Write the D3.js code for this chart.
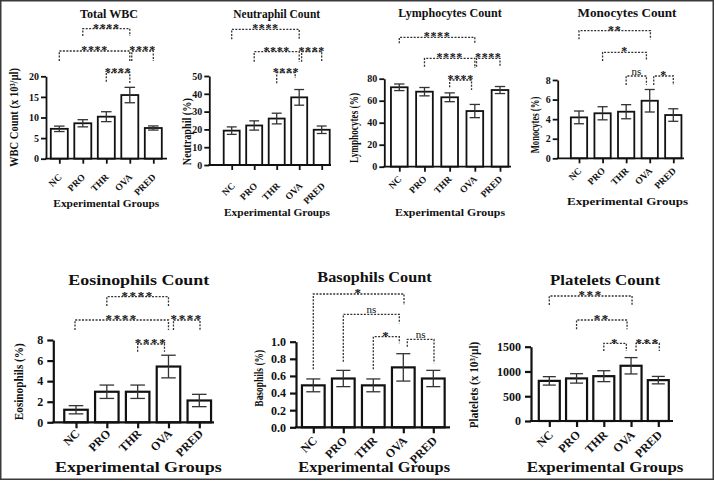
<!DOCTYPE html>
<html>
<head>
<meta charset="utf-8">
<script src="https://cdn.jsdelivr.net/npm/d3@7"></script>
<style>
  body { margin: 0; background: #fff; }
  text { font-family: "Liberation Serif", "Times New Roman", serif; font-weight: bold; fill: #111; }
</style>
</head>
<body>
<svg id="chart" width="715" height="482"></svg>
<script>
var groups = ["NC", "PRO", "THR", "OVA", "PRED"];

// Total WBC (x 10^3/ul)
var wbcMean = [7.25, 8.6, 10.2, 15.45, 7.45];
var wbcErr = [0.66, 0.87, 1.2, 1.87, 0.5];
var wbcTicks = [0, 5, 10, 15, 20];
var wbcSig = [["PRO", "OVA", "****"], ["NC", "OVA", "****"], ["OVA", "PRED", "****"], ["THR", "OVA", "****"]];

// Neutraphil (%)
var neuMean = [19.3, 22.2, 26.1, 38, 19.8];
var neuErr = [2.1, 2.6, 3, 4.4, 2.1];
var neuTicks = [0, 10, 20, 30, 40, 50];
var neuSig = [["NC", "OVA", "****"], ["PRO", "OVA", "****"], ["OVA", "PRED", "****"], ["THR", "OVA", "****"]];

// Lymphocytes (%)
var lymMean = [72.2, 68.2, 63.1, 50.6, 69.7];
var lymErr = [3, 3.8, 4, 6, 3.2];
var lymTicks = [0, 20, 40, 60, 80];
var lymSig = [["NC", "OVA", "****"], ["PRO", "OVA", "****"], ["OVA", "PRED", "****"], ["THR", "OVA", "****"]];

// Monocytes (%)
var monMean = [4.18, 4.6, 4.76, 5.88, 4.42];
var monErr = [0.65, 0.67, 0.72, 1.15, 0.64];
var monTicks = [0, 2, 4, 6, 8];
var monSig = [["NC", "OVA", "**"], ["PRO", "OVA", "*"], ["THR", "OVA", "ns"], ["OVA", "PRED", "*"]];

// Eosinophils (%)
var eosMean = [1.22, 2.97, 2.97, 5.42, 2.12];
var eosErr = [0.4, 0.65, 0.65, 1.1, 0.6];
var eosTicks = [0, 2, 4, 6, 8];
var eosSig = [["PRO", "OVA", "****"], ["NC", "OVA", "****"], ["OVA", "PRED", "****"], ["THR", "OVA", "****"]];

// Basophils (%)
var basMean = [0.49, 0.57, 0.49, 0.70, 0.57];
var basErr = [0.075, 0.095, 0.075, 0.16, 0.095];
var basTicks = [0, 0.2, 0.4, 0.6, 0.8, 1.0];
var basSig = [["NC", "OVA", "*"], ["PRO", "OVA", "ns"], ["THR", "OVA", "*"], ["OVA", "PRED", "ns"]];

// Platelets (x 10^3/ul)
var pltMean = [810, 860, 905, 1115, 825];
var pltErr = [85, 95, 110, 165, 75];
var pltTicks = [0, 500, 1000, 1500];
var pltSig = [["NC", "OVA", "***"], ["PRO", "OVA", "**"], ["THR", "OVA", "*"], ["OVA", "PRED", "***"]];

var svg = d3.select("#chart");

// outer frame
svg.append("rect")
    .attr("x", 0.75).attr("y", 0.75)
    .attr("width", 712.5).attr("height", 478.5)
    .attr("fill", "none").attr("stroke", "#3a3a3a").attr("stroke-width", 1.5);

var small = { title: 12, ylab: 11.5, xtitle: 11, ytick: 10, xtick: 9.5, star: 12, ns: 11, stroke: 1.8, tick: 5, tickGap: 7, starDy: 2.8, starSp: 0.6 };
var large = { title: 15, ylab: 13, xtitle: 15.5, ytick: 12, xtick: 12, star: 13, ns: 11, stroke: 2.2, tick: 6, tickGap: 10, starDy: 3.2, starSp: 1.6 };

// bracket layout: [line y, leg end A, leg end B, nudge A, nudge B]
var panels = [
    { mean: wbcMean, err: wbcErr, ticks: wbcTicks, sig: wbcSig, f: small,
      title: "Total WBC", ylab: "WBC Count (x 10\u00B3/\u00B5l)",
      ax: 46, base: 158.7, top: 76.3, x1: 59.3, x2: 153.3, xEnd: 167, barW: 17,
      tt: [109, 18, 58], yl: [14.2, 117.5, 99], xt: [106.3, 207, 106], lbl: [2.5, 19],
      br: [[28.7, 36, 36, 0, 0], [51, 61, 61, 0, 0], [51, 61, 61, 2, 0], [72.7, 81.7, 83.5, 0, 0]] },
    { mean: neuMean, err: neuErr, ticks: neuTicks, sig: neuSig, f: small,
      title: "Neutraphil Count", ylab: "Neutraphil (%)",
      ax: 209.3, base: 165, top: 76, x1: 231.7, x2: 321.7, xEnd: 331, barW: 16,
      tt: [276.7, 18, 86.7], yl: [187, 131.7, 67], xt: [277, 215.5, 106], lbl: [3.3, 21.5],
      br: [[29.3, 39.3, 39.3, 0, 0], [51.7, 61.7, 61.7, 0, 0], [51.7, 61.7, 61.7, 2.4, 0], [72.7, 83.3, 78, 0, -4]] },
    { mean: lymMean, err: lymErr, ticks: lymTicks, sig: lymSig, f: small,
      title: "Lymphocytes Count", ylab: "Lymphocytes (%)",
      ax: 384.3, base: 166.7, top: 78.7, x1: 399.3, x2: 500, xEnd: 511, barW: 16.7,
      tt: [450, 16.5, 103.3], yl: [354, 128, 70], xt: [450, 215.5, 110], lbl: [2.3, 13],
      br: [[37.3, 43.3, 43.3, 0, 0], [58.3, 66.7, 68, 0, 0], [58.3, 66.7, 66.7, 1.7, 0], [80, 87.3, 90, 0, -3.3]] },
    { mean: monMean, err: monErr, ticks: monTicks, sig: monSig, f: small,
      title: "Monocytes Count", ylab: "Monocytes (%)",
      ax: 557.7, base: 158.3, top: 80, x1: 579, x2: 673.3, xEnd: 684, barW: 16.3,
      tt: [627, 16.5, 99], yl: [535, 125, 56.7], xt: [627.5, 204.5, 121], lbl: [2.7, 13],
      br: [[30.7, 39.3, 39.3, 0, 0.7], [52.3, 61, 61, 0, -3.3], [76, 85, 85, 0, -3.3], [76, 85, 85, 4, 0]] },
    { mean: eosMean, err: eosErr, ticks: eosTicks, sig: eosSig, f: large,
      title: "Eosinophils Count", ylab: "Eosinophils (%)",
      ax: 53.3, base: 422.3, top: 340, x1: 76, x2: 199.3, xEnd: 214, barW: 23.5,
      tt: [138.8, 285, 141], yl: [18.3, 381.7, 77], xt: [138.3, 472, 166.7], lbl: [4, 12],
      br: [[296.7, 306, 306, 0, 0], [320, 330, 330, -1, 0], [320, 330, 330, 5, 0.7], [344, 351.7, 351.7, 0, -4]] },
    { mean: basMean, err: basErr, ticks: basTicks, sig: basSig, f: large, fmt: d3.format(".1f"),
      title: "Basophils Count", ylab: "Basophils (%)",
      ax: 296, base: 427.3, top: 341.7, x1: 313.3, x2: 433.3, xEnd: 450, barW: 22.7,
      tt: [374.5, 282, 114.3], yl: [258.3, 378.3, 56.7], xt: [374.2, 472, 151.7], lbl: [4, 14],
      br: [[294, 369.3, 305, 0, 0.7], [314.3, 361.7, 323.3, 0, -4], [336.7, 369.3, 343.3, 0, -4], [339.3, 346.7, 363.3, 4, 0.7]] },
    { mean: pltMean, err: pltErr, ticks: pltTicks, sig: pltSig, f: large,
      title: "Platelets Count", ylab: "Platelets (x 10\u00B3/\u00B5l)",
      ax: 531, base: 421, top: 346.7, x1: 549.3, x2: 658.3, xEnd: 673, barW: 21,
      tt: [605, 284.5, 110], yl: [473.3, 385, 86.7], xt: [605, 472, 156.7], lbl: [4, 14.5],
      br: [[296, 305, 305, 0, 1], [320, 329.3, 329.3, 0, -4], [343.3, 351, 351, 0, -4.7], [343.3, 351, 351, 5, 1]] }
];

panels.forEach(drawPanel);

function drawPanel(p) {
    var f = p.f;
    var g = svg.append("g");
    var yMax = p.ticks[p.ticks.length - 1];

    var x = d3.scalePoint().domain(groups).range([p.x1, p.x2]);
    var y = d3.scaleLinear().domain([0, yMax]).range([p.base, p.top]);

    var rows = groups.map(function (d, i) { return { g: d, m: p.mean[i], e: p.err[i] }; });

    // bars
    g.selectAll("rect.bar")
        .data(rows)
        .enter()
        .append("rect")
        .attr("class", "bar")
        .attr("x", function (d) { return x(d.g) - p.barW / 2; })
        .attr("y", function (d) { return y(d.m); })
        .attr("width", p.barW)
        .attr("height", function (d) { return y(0) - y(d.m); })
        .attr("fill", "#fff")
        .attr("stroke", "#111")
        .attr("stroke-width", f.stroke);

    // error bars
    var capW = p.barW * 0.62;
    var eb = g.selectAll("g.err").data(rows).enter().append("g").attr("class", "err")
        .attr("stroke", "#333").attr("stroke-width", 1.3);
    eb.append("line")
        .attr("x1", function (d) { return x(d.g); })
        .attr("x2", function (d) { return x(d.g); })
        .attr("y1", function (d) { return y(d.m - d.e); })
        .attr("y2", function (d) { return y(d.m + d.e); });
    eb.selectAll("line.cap")
        .data(function (d) { return [[d.g, d.m - d.e], [d.g, d.m + d.e]]; })
        .enter()
        .append("line")
        .attr("class", "cap")
        .attr("x1", function (d) { return x(d[0]) - capW / 2; })
        .attr("x2", function (d) { return x(d[0]) + capW / 2; })
        .attr("y1", function (d) { return y(d[1]); })
        .attr("y2", function (d) { return y(d[1]); });

    // y axis
    var yAxis = g.append("g")
        .attr("transform", "translate(" + p.ax + ",0)")
        .call(d3.axisLeft(y).tickValues(p.ticks).tickSize(f.tick).tickSizeOuter(0)
            .tickPadding(f.tickGap - f.tick).tickFormat(p.fmt || d3.format("d")));
    yAxis.attr("font-family", null).attr("font-size", null);
    yAxis.selectAll("path, line").attr("stroke", "#111").attr("stroke-width", f.stroke);
    yAxis.selectAll("text").style("font-size", f.ytick + "px");

    // x axis
    var xAxis = g.append("g")
        .attr("transform", "translate(0," + p.base + ")")
        .call(d3.axisBottom(x).tickSize(f.tick).tickSizeOuter(0));
    xAxis.attr("font-family", null).attr("font-size", null);
    xAxis.select(".domain").remove();
    xAxis.append("line")
        .attr("x1", p.ax - f.stroke / 2).attr("x2", p.xEnd)
        .attr("stroke", "#111").attr("stroke-width", f.stroke);
    xAxis.selectAll("line").attr("stroke", "#111").attr("stroke-width", f.stroke);
    xAxis.selectAll(".tick text")
        .attr("x", 0).attr("y", 0).attr("dy", 0)
        .attr("text-anchor", "end")
        .attr("transform", "translate(" + p.lbl[0] + "," + p.lbl[1] + ") rotate(-45)")
        .style("font-size", f.xtick + "px");

    // titles
    g.append("text")
        .attr("x", p.tt[0]).attr("y", p.tt[1])
        .attr("text-anchor", "middle")
        .attr("textLength", p.tt[2]).attr("lengthAdjust", "spacingAndGlyphs")
        .style("font-size", f.title + "px")
        .text(p.title);

    g.append("text")
        .attr("transform", "translate(" + p.yl[0] + "," + p.yl[1] + ") rotate(-90)")
        .attr("text-anchor", "middle")
        .attr("dy", "0.35em")
        .attr("textLength", p.yl[2]).attr("lengthAdjust", "spacingAndGlyphs")
        .style("font-size", f.ylab + "px")
        .text(p.ylab);

    g.append("text")
        .attr("x", p.xt[0]).attr("y", p.xt[1])
        .attr("text-anchor", "middle")
        .attr("textLength", p.xt[2]).attr("lengthAdjust", "spacingAndGlyphs")
        .style("font-size", f.xtitle + "px")
        .text("Experimental Groups");

    // significance brackets
    var sig = p.sig.map(function (s, i) {
        var b = p.br[i];
        return { xa: x(s[0]) + b[3], xb: x(s[1]) + b[4], ly: b[0], la: b[1], lb: b[2], label: s[2] };
    });

    g.selectAll("path.bracket")
        .data(sig)
        .enter()
        .append("path")
        .attr("class", "bracket")
        .attr("d", function (d) {
            return "M" + d.xa + "," + d.la + "V" + d.ly + "H" + d.xb + "V" + d.lb;
        })
        .attr("fill", "none")
        .attr("stroke", "#333")
        .attr("stroke-width", 1.3)
        .attr("stroke-dasharray", "2,1.4");

    g.selectAll("text.sig")
        .data(sig)
        .enter()
        .append("text")
        .attr("class", "sig")
        .attr("x", function (d) { return (d.xa + d.xb) / 2; })
        .attr("y", function (d) { return d.label === "ns" ? d.ly - 1.5 : d.ly + f.starDy; })
        .attr("text-anchor", "middle")
        .style("font-weight", function (d) { return d.label === "ns" ? "normal" : "bold"; })
        .style("font-size", function (d) { return (d.label === "ns" ? f.ns : f.star) + "px"; })
        .style("letter-spacing", function (d) { return d.label === "ns" ? "0px" : f.starSp + "px"; })
        .text(function (d) { return d.label; });
}
</script>
</body>
</html>
